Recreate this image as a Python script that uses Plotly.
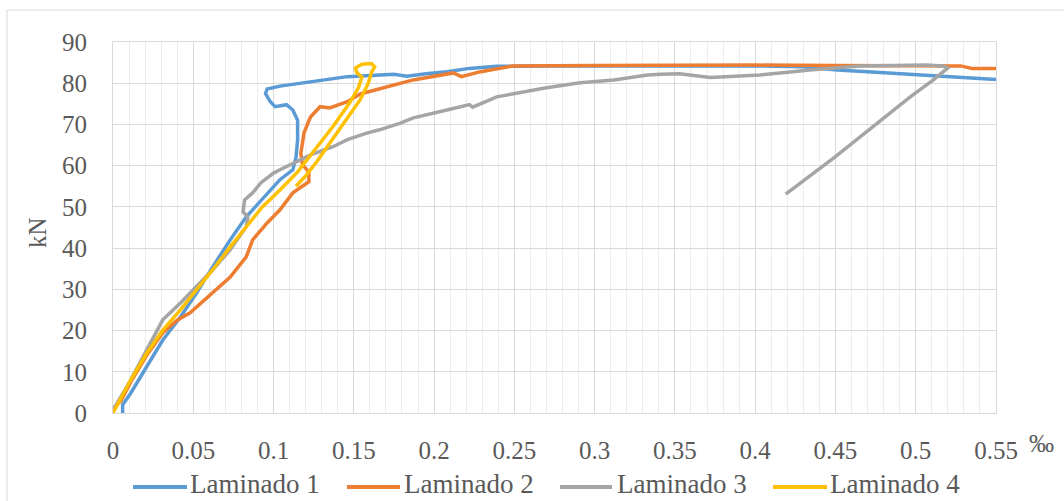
import plotly.graph_objects as go

# ---------------- data ----------------
series_names = ["Laminado 1", "Laminado 2", "Laminado 3", "Laminado 4"]
series_colors = ["#5B9BD5", "#ED7D31", "#A5A5A5", "#FFC000"]

x1 = [0.006, 0.006, 0.011, 0.021, 0.031, 0.042, 0.052, 0.062, 0.073, 0.083, 0.093, 0.104,
      0.112, 0.114, 0.115, 0.115, 0.112, 0.108, 0.101, 0.098, 0.095, 0.096, 0.104, 0.117,
      0.123, 0.146, 0.175, 0.183, 0.195, 0.208, 0.222, 0.239, 0.27, 0.3, 0.35, 0.4, 0.43,
      0.451, 0.47, 0.486, 0.5, 0.517, 0.535, 0.551]
y1 = [0, 2, 4.8, 11.2, 17.7, 23.3, 29.1, 35.4, 42, 47.6, 52, 56.6,
      59, 62, 66.3, 71, 73.5, 74.8, 74.3, 75.5, 77.5, 78.6, 79.3, 80,
      80.3, 81.6, 82.2, 81.7, 82.3, 82.8, 83.6, 84.1, 84.2, 84.2, 84.3, 84.2, 84,
      83.2, 82.8, 82.4, 82.1, 81.6, 81.3, 80.9]

x2 = [0, 0.005, 0.011, 0.021, 0.031, 0.040, 0.048, 0.062, 0.073, 0.083, 0.087, 0.096,
      0.104, 0.112, 0.118, 0.122, 0.122, 0.118, 0.117, 0.119, 0.123, 0.129, 0.135, 0.146,
      0.154, 0.166, 0.187, 0.212, 0.217, 0.229, 0.249, 0.3, 0.35, 0.4, 0.45, 0.5, 0.528,
      0.535, 0.551]
y2 = [1, 3, 7.5, 14, 19.5, 22.5, 24.3, 29.1, 33, 37.9, 42, 46.1,
      49.3, 53.4, 55, 56.1, 58.5, 60.2, 63, 68, 71.8, 74.3, 74, 75.5,
      77.4, 78.6, 80.8, 82.5, 81.6, 82.8, 84.2, 84.3, 84.4, 84.4, 84.3, 84.3, 84.2,
      83.6, 83.6]

x3 = [0, 0.011, 0.021, 0.031, 0.042, 0.052, 0.062, 0.073, 0.083, 0.084, 0.081, 0.082,
      0.087, 0.092, 0.1, 0.104, 0.117, 0.123, 0.137, 0.146, 0.158, 0.166, 0.179, 0.187,
      0.208, 0.222, 0.224, 0.239, 0.27, 0.291, 0.312, 0.333, 0.341, 0.353, 0.372, 0.403,
      0.434, 0.465, 0.507, 0.517, 0.52, 0.511, 0.497, 0.476, 0.449, 0.419]
y3 = [0.7, 8, 15.3, 22.6, 26.7, 30.6, 34.7, 39.6, 45.2, 47.6, 48.8, 51.7,
      53.4, 55.8, 58.2, 59, 61.4, 62.6, 64.6, 66.3, 67.9, 68.7, 70.3, 71.6,
      73.5, 74.8, 74.2, 76.7, 78.9, 80.1, 80.8, 82, 82.2, 82.3, 81.4, 82,
      83.2, 84.2, 84.4, 84.2, 83.7, 80.8, 76.8, 70.4, 61.9, 53.1]

x4 = [0, 0.011, 0.021, 0.031, 0.042, 0.052, 0.062, 0.073, 0.083, 0.093, 0.104, 0.115,
      0.125, 0.137, 0.147, 0.153, 0.155, 0.152, 0.151, 0.155, 0.161, 0.163, 0.161, 0.159,
      0.154, 0.146, 0.136, 0.127, 0.12, 0.114]
y4 = [0, 8, 14.5, 20.1, 25, 29.8, 34.7, 40.3, 45.2, 50, 54.1, 58.5,
      63.5, 69.5, 75, 79, 81.5, 82.5, 83.7, 84.6, 84.8, 84, 82.6, 80,
      76, 71.5, 66, 61, 57.5, 55]

xs = [x1, x2, x3, x4]
ys = [y1, y2, y3, y4]

x_tickvals = [0, 0.05, 0.1, 0.15, 0.2, 0.25, 0.3, 0.35, 0.4, 0.45, 0.5, 0.55]
x_ticktext = ["0", "0.05", "0.1", "0.15", "0.2", "0.25", "0.3", "0.35", "0.4", "0.45", "0.5", "0.55"]
y_tickvals = [0, 10, 20, 30, 40, 50, 60, 70, 80, 90]
y_title = "kN"
x_unit = "‰"

# ---------------- layout constants ----------------
W, H = 1064, 501
L, R, T, B = 113, 996, 42, 413
PW, PH = R - L, B - T
FONT = "Liberation Serif"
TXT = "#595959"


def px(xp):
    return (xp - L) / PW


def py(yp):
    return (B - yp) / PH


fig = go.Figure()
for name, color, xv, yv in zip(series_names, series_colors, xs, ys):
    fig.add_trace(go.Scatter(x=xv, y=yv, mode="lines", name=name,
                             line=dict(color=color, width=3.5), showlegend=False))

shapes = [
    dict(type="rect", xref="paper", yref="paper", x0=px(7), x1=px(1100),
         y0=py(520), y1=py(10), line=dict(color="#D9D9D9", width=1), layer="below"),
]
annotations = [
    dict(text=y_title, xref="paper", yref="paper", x=px(37), y=py(233), textangle=-90,
         showarrow=False, font=dict(family=FONT, size=25, color=TXT),
         xanchor="center", yanchor="middle"),
    dict(text=x_unit, xref="paper", yref="paper", x=px(1027), y=py(443),
         showarrow=False, font=dict(family=FONT, size=25, color=TXT),
         xanchor="left", yanchor="middle"),
]

# manual legend (line samples + labels)
leg_line_x = [(133, 187), (347, 400), (560, 612), (773, 827)]
leg_text_x = [188, 402, 615, 828]
for (a, b), tx, name, color in zip(leg_line_x, leg_text_x, series_names, series_colors):
    shapes.append(dict(type="line", xref="paper", yref="paper", x0=px(a), x1=px(b),
                       y0=py(487), y1=py(487), line=dict(color=color, width=4)))
    annotations.append(dict(text=name, xref="paper", yref="paper", x=px(tx), y=py(484),
                            showarrow=False, xanchor="left", yanchor="middle",
                            font=dict(family=FONT, size=27, color=TXT)))

fig.update_layout(
    width=W, height=H,
    margin=dict(l=L, r=W - R, t=T, b=H - B, pad=0),
    paper_bgcolor="white", plot_bgcolor="white",
    font=dict(family=FONT, color=TXT, size=24),
    shapes=shapes, annotations=annotations,
    showlegend=False,
)
fig.update_xaxes(
    range=[0, 0.55], tickmode="array", tickvals=x_tickvals, ticktext=x_ticktext,
    showgrid=True, gridcolor="#D9D9D9", gridwidth=1, zeroline=False,
    showline=True, mirror=True, linecolor="#D9D9D9", linewidth=1,
    ticks="outside", ticklen=15, tickcolor="rgba(0,0,0,0)",
    tickfont=dict(family=FONT, size=25, color=TXT),
    minor=dict(tickmode="linear", tick0=0, dtick=0.01, showgrid=True,
               gridcolor="#EDEDED", gridwidth=1),
)
fig.update_yaxes(
    range=[0, 90], tickmode="array", tickvals=y_tickvals,
    showgrid=True, gridcolor="#D9D9D9", gridwidth=1, zeroline=False,
    showline=True, mirror=True, linecolor="#D9D9D9", linewidth=1,
    ticks="outside", ticklen=20, tickcolor="rgba(0,0,0,0)",
    tickfont=dict(family=FONT, size=25, color=TXT),
)

fig.write_html("out.html")
